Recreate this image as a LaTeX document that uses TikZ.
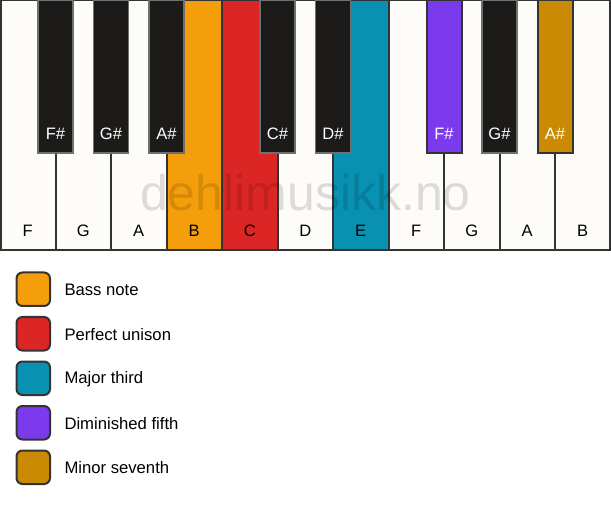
\documentclass[tikz,border=0pt]{standalone}
\usepackage{fontspec}
\setmainfont{Liberation Sans}

\definecolor{keywhite}{RGB}{253,252,248}
\definecolor{keyblack}{RGB}{28,27,25}
\definecolor{keyedge}{RGB}{51,51,51}
\definecolor{bassnote}{RGB}{245,158,11}
\definecolor{unison}{RGB}{220,38,38}
\definecolor{majthird}{RGB}{8,145,178}
\definecolor{dimfifth}{RGB}{124,58,237}
\definecolor{minseventh}{RGB}{202,138,4}

\tikzset{every picture/.style={line width=0.75pt}}
\tikzset{
  whitekey/.style={draw=keyedge, line width=1.5pt, fill=keywhite},
  blackkey/.style={draw=keyedge!70, line width=1pt, fill=keyblack},
  colkey/.style={draw=keyedge, line width=1.5pt, fill=#1},
  wlabel/.style={inner sep=0pt, font=\fontsize{12.4}{14}\selectfont, text=black},
  blabel/.style={inner sep=0pt, font=\fontsize{12.4}{14}\selectfont, text=white},
  legendbox/.style={draw=keyedge, line width=1.5pt, fill=#1, rounded corners=4.5pt},
  legendtext/.style={anchor=west, inner sep=0pt, font=\fontsize{12.5}{14}\selectfont}
}

\begin{document}
\begin{tikzpicture}[x=0.75pt,y=0.75pt,yscale=-1,xscale=1]
\useasboundingbox (0,0) rectangle (611,506);
\fill[white] (0,0) rectangle (611,506);

%White keys
\draw [whitekey] (0.75,0.5) rectangle (55.5,250);
\draw [whitekey] (55.5,0.5) rectangle (111,250);
\draw [whitekey] (111,0.5) rectangle (166.5,250);
\draw [colkey=bassnote] (166.5,0.5) rectangle (222,250);
\draw [colkey=unison] (222,0.5) rectangle (277.5,250);
\draw [whitekey] (277.5,0.5) rectangle (333,250);
\draw [colkey=majthird] (333,0.5) rectangle (388.5,250);
\draw [whitekey] (388.5,0.5) rectangle (444,250);
\draw [whitekey] (444,0.5) rectangle (499.5,250);
\draw [whitekey] (499.5,0.5) rectangle (555,250);
\draw [whitekey] (555,0.5) rectangle (610.25,250);

%Watermark
\node (mark) [inner sep=0pt, text=black, text opacity=0.13, font=\fontsize{37.5}{40}\selectfont] at (305.5,193) {dehlimusikk.no};

%Black keys
\draw [blackkey] (38,0.5) rectangle (73,153);
\draw [blackkey] (93.5,0.5) rectangle (128.5,153);
\draw [blackkey] (149,0.5) rectangle (184,153);
\draw [blackkey] (260,0.5) rectangle (295,153);
\draw [blackkey] (315.5,0.5) rectangle (350.5,153);
\draw [colkey=dimfifth] (426.5,0.5) rectangle (461.5,153);
\draw [blackkey] (482,0.5) rectangle (517,153);
\draw [colkey=minseventh] (537.5,0.5) rectangle (572.5,153);

%White key labels
\node (nF) [wlabel] at (27.75,231) {F};
\node (nG) [wlabel] at (83.25,231) {G};
\node (nA) [wlabel] at (138.75,231) {A};
\node (nB) [wlabel] at (194.25,231) {B};
\node (nC) [wlabel] at (249.75,231) {C};
\node (nD) [wlabel] at (305.25,231) {D};
\node (nE) [wlabel] at (360.75,231) {E};
\node (nF2) [wlabel] at (416.25,231) {F};
\node (nG2) [wlabel] at (471.75,231) {G};
\node (nA2) [wlabel] at (527.25,231) {A};
\node (nB2) [wlabel] at (582.75,231) {B};

%Black key labels
\node (nFs) [blabel] at (55.5,134) {F\#};
\node (nGs) [blabel] at (111,134) {G\#};
\node (nAs) [blabel] at (166.5,134) {A\#};
\node (nCs) [blabel] at (277.5,134) {C\#};
\node (nDs) [blabel] at (333,134) {D\#};
\node (nFs2) [blabel] at (444,134) {F\#};
\node (nGs2) [blabel] at (499.5,134) {G\#};
\node (nAs2) [blabel] at (555,134) {A\#};

%Legend
\draw [legendbox=bassnote] (16.5,272.5) rectangle (50,306);
\node (lbass) [legendtext] at (64,290) {Bass note};
\draw [legendbox=unison] (16.5,317) rectangle (50,350.5);
\node (lunison) [legendtext] at (64,334.5) {Perfect unison};
\draw [legendbox=majthird] (16.5,361.5) rectangle (50,395);
\node (lthird) [legendtext] at (64,379) {Major third};
\draw [legendbox=dimfifth] (16.5,406) rectangle (50,439.5);
\node (lfifth) [legendtext] at (64,423.5) {Diminished fifth};
\draw [legendbox=minseventh] (16.5,450.5) rectangle (50,484);
\node (lseventh) [legendtext] at (64,468) {Minor seventh};

\end{tikzpicture}
\end{document}
